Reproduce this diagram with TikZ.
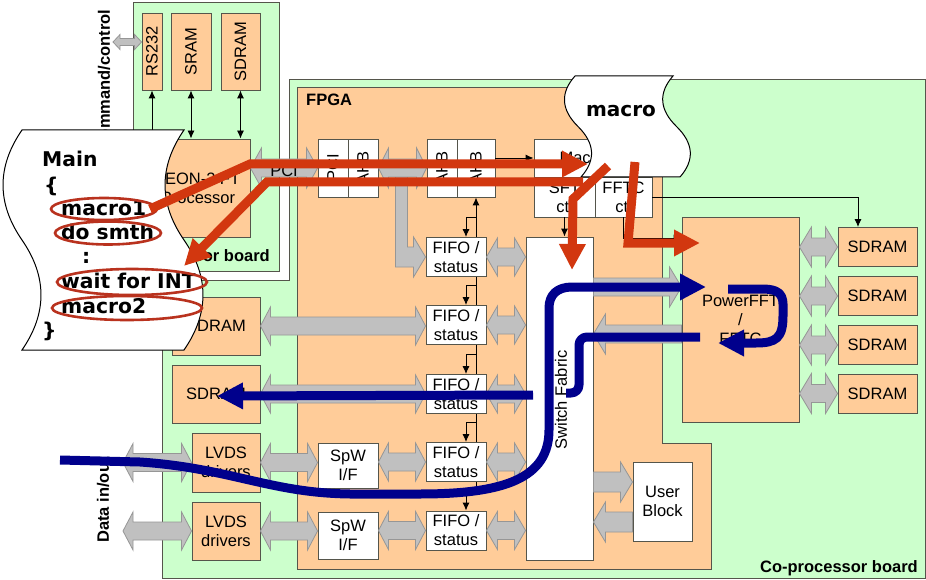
\documentclass[tikz,border=0pt]{standalone}
\usepackage{fontspec}
\setmainfont{Liberation Sans}
\newfontfamily\dejav{DejaVu Sans}
\usetikzlibrary{arrows.meta,calc}
\definecolor{gboard}{RGB}{204,255,204}
\definecolor{obox}{RGB}{255,204,153}
\definecolor{bord}{RGB}{85,85,75}
\definecolor{gfill}{RGB}{192,192,192}
\definecolor{gline}{RGB}{150,150,150}
\definecolor{redA}{RGB}{210,55,15}
\definecolor{redE}{RGB}{185,50,30}
\definecolor{blueA}{RGB}{0,0,140}
\pgfdeclarelayer{back}\pgfdeclarelayer{mid}
\pgfsetlayers{back,mid,main}
\newcommand\lab{\fontsize{16.5}{19}\selectfont}
\newcommand\labb{\bfseries\fontsize{16.5}{19}\selectfont}
\newcommand\mainf{\dejav\bfseries\fontsize{20.3}{23}\selectfont}
% fat gray arrows: p1, p2, shaft half, head half, head length
\newcommand\gDbl[5]{\filldraw[garrow] let \p1=(#1),\p2=(#2) in
 (\x1,\y1) -- (\x1+#5pt,\y1+#4pt) -- (\x1+#5pt,\y1+#3pt) -- (\x2-#5pt,\y1+#3pt) -- (\x2-#5pt,\y1+#4pt) -- (\x2,\y1) -- (\x2-#5pt,\y1-#4pt) -- (\x2-#5pt,\y1-#3pt) -- (\x1+#5pt,\y1-#3pt) -- (\x1+#5pt,\y1-#4pt) -- cycle;}
\newcommand\gR[5]{\filldraw[garrow] let \p1=(#1),\p2=(#2) in
 (\x1,\y1+#3pt) -- (\x2-#5pt,\y1+#3pt) -- (\x2-#5pt,\y1+#4pt) -- (\x2,\y1) -- (\x2-#5pt,\y1-#4pt) -- (\x2-#5pt,\y1-#3pt) -- (\x1,\y1-#3pt) -- cycle;}
\newcommand\gL[5]{\filldraw[garrow] let \p1=(#1),\p2=(#2) in
 (\x1,\y1) -- (\x1+#5pt,\y1+#4pt) -- (\x1+#5pt,\y1+#3pt) -- (\x2,\y1+#3pt) -- (\x2,\y1-#3pt) -- (\x1+#5pt,\y1-#3pt) -- (\x1+#5pt,\y1-#4pt) -- cycle;}
\begin{document}
\begin{tikzpicture}[x=1pt,y=-1pt,
 orange box/.style={draw=bord, fill=obox, line width=0.9pt, inner sep=0pt, align=center, font=\lab},
 white box/.style={draw=bord, fill=white, line width=0.9pt, inner sep=0pt, align=center, font=\lab},
 garrow/.style={fill=gfill, draw=gline, line width=0.8pt},
 blk/.style={draw=black, line width=0.9pt},
 blkarr/.style={blk, -{Latex[length=8pt,width=7pt]}},
 blkdbl/.style={blk, {Latex[length=8pt,width=7pt]}-{Latex[length=8pt,width=7pt]}},
 redarr/.style={draw=redA, line width=9pt, -{Triangle[length=26pt,width=25pt]}},
 bluearr/.style={draw=blueA, line width=9pt, line join=round, -{Triangle[length=26pt,width=25pt]}},
 blueline/.style={draw=blueA, line width=9pt, line join=round},
 redell/.style={draw=redE, line width=2.6pt},
 txt/.style={inner sep=0pt, font=\lab},
 scroll/.style={draw=black, fill=white, line width=1pt},
 mtxt/.style={inner sep=0pt, font=\mainf, anchor=base west},
]
\useasboundingbox (0,0) rectangle (926,580);
\begin{pgfonlayer}{back}
\fill[white] (0,0) rectangle (926,580);
\filldraw[fill=gboard, draw=bord, line width=1pt] (162,280) -- (289,280) -- (289,80) -- (925,80) -- (925,578) -- (162,578) -- cycle;
\filldraw[fill=gboard, draw=bord, line width=1pt] (133,3) rectangle (279,271);
\filldraw[fill=obox, draw=bord, line width=1pt] (297,88) -- (662,88) -- (662,443) -- (711,443) -- (711,569) -- (297,569) -- cycle;
\end{pgfonlayer}

% board labels
\node[txt, font=\labb, anchor=west] (fpgaL) at (306,100) {FPGA};
\node[txt, font=\labb, anchor=east] (cpb) at (918,568) {Co-processor board};
\node[txt, font=\labb, anchor=east] (pb) at (270,256) {Processor board};
\node[txt, font=\labb, rotate=90] (cmd) at (104,79) {command/control};
\node[txt, font=\labb, rotate=90] (dio) at (103,500) {Data in/out};

% processor board
\node[orange box, minimum width=20pt, minimum height=77pt] (rs232) at (152,51.5) {};
\node[txt, rotate=90] (rs232t) at (rs232) {RS232};
\node[orange box, minimum width=40pt, minimum height=77pt] (sram) at (191,51.5) {};
\node[txt, rotate=90] (sramt) at (sram) {SRAM};
\node[orange box, minimum width=39pt, minimum height=77pt] (sdp) at (240.5,51.5) {};
\node[txt, rotate=90] (sdpt) at (sdp) {SDRAM};
\node[orange box, minimum width=104pt, minimum height=98pt] (leon) at (198,188) {LEON-2 FT\\Processor};
\draw[blkdbl] (rs232.south) -- (rs232.south |- leon.north);
\draw[blkdbl] (sram.south) -- (sram.south |- leon.north);
\draw[blkdbl] (sdp.south) -- (sdp.south |- leon.north);
\coordinate (cmdL) at (113,42);
\gDbl{cmdL}{rs232.west |- cmdL}{3.5}{7.5}{7}

% FPGA top blocks
\node[white box, minimum width=30pt, minimum height=58pt] (pci) at (333,168) {};
\node[txt, rotate=90] (pcit) at (pci) {PCI};
\node[white box, minimum width=30pt, minimum height=58pt] (ahb1) at (363,168) {};
\node[txt, rotate=90] (ahb1t) at (ahb1) {AHB};
\node[white box, minimum width=30pt, minimum height=58pt] (ahb2) at (442,168) {};
\node[txt, rotate=90] (ahb2t) at (ahb2) {AHB};
\node[white box, minimum width=38pt, minimum height=58pt] (ahb3) at (476,168) {};
\node[txt, rotate=90] (ahb3t) at (ahb3) {AHB};
\node[white box, minimum width=118pt, minimum height=38pt] (mctl) at (593,158) {Macro ctl};
\node[white box, minimum width=61pt, minimum height=40pt] (sftc) at (564.5,197) {SFT\\ctl};
\node[white box, minimum width=57pt, minimum height=40pt] (fftc) at (623.5,197) {FFTC\\ctl};

% FIFOs, switch fabric, user block
\foreach \i/\y in {1/257,2/325,3/394,4/462,5/530.5}
  \node[white box, minimum width=60pt, minimum height=39pt] (fifo\i) at (456,\y) {FIFO /\\status};
\node[white box, minimum width=67pt, minimum height=323pt] (sf) at (559.5,398.5) {};
\node[txt, rotate=90] (swt) at (561,400) {Switch Fabric};
\node[white box, minimum width=59pt, minimum height=79pt] (ub) at (662.5,501.5) {User\\Block};

% PowerFFT and SDRAMs
\node[orange box, minimum width=117pt, minimum height=205pt] (pf) at (740.5,319.5) {PowerFFT\\/\\FFTC};
\foreach \i/\y in {1/247,2/296,3/345,4/393.5}
  \node[orange box, minimum width=79pt, minimum height=39pt] (sdr\i) at (877.5,\y) {SDRAM};

% left column
\node[orange box, minimum width=88pt, minimum height=58pt] (sdl1) at (216,326) {SDRAM};
\node[orange box, minimum width=88pt, minimum height=58pt] (sdl2) at (216,394) {SDRAM};
\node[orange box, minimum width=68pt, minimum height=59pt] (lvds1) at (226,462.5) {LVDS\\drivers};
\node[orange box, minimum width=68pt, minimum height=58pt] (lvds2) at (226,531) {LVDS\\drivers};
\node[white box, minimum width=60pt, minimum height=45pt] (spw1) at (348,465.5) {SpW\\I/F};
\node[white box, minimum width=60pt, minimum height=47pt] (spw2) at (348,535.5) {SpW\\I/F};

% bus (under boxes)
\begin{pgfonlayer}{mid}
\draw[blkarr] ([yshift=21pt]fifo5.north -| ahb3.south) -- (ahb3.south);
\end{pgfonlayer}
\foreach \i in {1,...,5}
  \draw[blkarr] ([yshift=20pt]fifo\i.north -| ahb3.south) -- ([xshift=10pt,yshift=20pt]fifo\i.north) -- ([xshift=10pt]fifo\i.north);

% gray arrows
\gDbl{leon.east |- pci.west}{pci.west}{9}{20}{11}
\node[txt] (pcil) at (284,171) {PCI};
\filldraw[garrow] let \p1=(fifo1.west), \p2=(ahb1.east) in (\x2+17pt,\y2) -- (\x2+17pt,\y1-10pt) -- (\x1-12pt,\y1-10pt) -- (\x1-12pt,\y1-20pt) -- (\x1,\y1) -- (\x1-12pt,\y1+20pt) -- (\x1-12pt,\y1+10pt) -- (\x2+29pt,\y1+10pt) -- (\x2+29pt,\y2) -- cycle;
\gDbl{ahb1.east}{ahb2.west}{9}{20}{10}
\gDbl{sdl1.east}{fifo2.west}{9}{19}{10}
\gDbl{sdl2.east}{fifo3.west}{9}{19}{10}
\coordinate (lvL) at (123,0);
\gDbl{lvL |- lvds1.west}{lvds1.west}{9}{19}{10}
\gDbl{lvL |- lvds2.west}{lvds2.west}{9}{19}{10}
\gDbl{lvds1.east}{spw1.west |- lvds1.east}{9}{19}{10}
\gDbl{lvds2.east}{spw2.west |- lvds2.east}{9}{19}{10}
\gDbl{spw1.east |- fifo4.west}{fifo4.west}{9}{19}{10}
\gDbl{spw2.east |- fifo5.west}{fifo5.west}{9}{19}{10}
\foreach \i in {1,...,5} {\gDbl{fifo\i.east}{sf.west |- fifo\i.east}{9}{19}{11}}
\coordinate (g1) at (0,287);
\coordinate (g2) at (0,334);
\coordinate (g3) at (0,482);
\coordinate (g4) at (0,522);
\gR{sf.east |- g1}{pf.west |- g1}{9}{20}{12}
\gL{sf.east |- g2}{pf.west |- g2}{9}{20}{12}
\gR{sf.east |- g3}{ub.west |- g3}{10}{20}{12}
\gL{sf.east |- g4}{ub.west |- g4}{10}{20}{12}
\foreach \i in {1,...,4} {\gDbl{pf.east |- sdr\i.west}{sdr\i.west}{9}{20}{12}}

% black arrows
\coordinate (g0) at (0,238);
\draw[blkarr] (ahb3.east |- mctl.west) -- (mctl.west);
\draw[blkarr] (sftc.south) -- (sftc.south |- sf.north);
\draw[blkarr] (fftc.south) |- (pf.west |- g0);
\draw[blkarr] (fftc.east) -| ([xshift=-19.5pt]sdr1.north);

% Main scroll
\filldraw[scroll] (22,130) -- (184,130) .. controls (158.7,166.7) and (158.7,203.3) .. (184,240) .. controls (209.3,276.7) and (209.3,313.3) .. (184,350) -- (22,350) .. controls (47.3,313.3) and (47.3,276.7) .. (22,240) .. controls (-3.3,203.3) and (-3.3,166.7) .. (22,130) -- cycle;
\node[mtxt] (mMain) at (42,167) {Main};
\node[mtxt] (mOpen) at (44,193) {\{};
\node[mtxt] (m1) at (61,215) {macro1};
\node[mtxt] (m2) at (61,239) {do smth};
\node[mtxt] (mdots) at (82,263) {:};
\node[mtxt] (m3) at (61,288) {wait for INT};
\node[mtxt] (m4) at (61,313) {macro2};
\node[mtxt] (mClose) at (42,337) {\}};
\draw[redell] (104,209) ellipse [x radius=53pt, y radius=11pt];
\draw[redell] (108,233) ellipse [x radius=53pt, y radius=11.5pt];
\draw[redell] (132,282) ellipse [x radius=75pt, y radius=13pt];
\draw[redell] (127,308) ellipse [x radius=75pt, y radius=12pt];

% macro scroll
\filldraw[scroll] (575,76) -- (673,76) .. controls (658.2,92.8) and (659.3,109.7) .. (676.5,126.5) .. controls (693.7,143.3) and (694.8,160.2) .. (680,177) -- (581,177) .. controls (596,160.2) and (595,143.3) .. (578,126.5) .. controls (561,109.7) and (560,92.8) .. (575,76) -- cycle;
\node[txt, font=\dejav\bfseries\fontsize{20}{24}\selectfont, anchor=base] (mac) at (621,117) {macro};

% red arrows
\coordinate (r1a) at (150,209); \coordinate (r1b) at (250,164); \coordinate (r1c) at (588,164);
\draw[redarr] (r1a) -- (r1b) -- (r1c);
\coordinate (r2a) at (583,182); \coordinate (r2b) at (267,182); \coordinate (r2c) at (184,266);
\draw[redarr] (r2a) -- (r2b) -- (r2c);
\coordinate (r3a) at (608,166); \coordinate (r3b) at (573,199); \coordinate (r3c) at (572,270);
\draw[redarr] (r3a) -- (r3b) -- (r3c);
\coordinate (r4a) at (635,162); \coordinate (r4b) at (628,243); \coordinate (r4c) at (700,243);
\draw[redarr] (r4a) -- (r4b) -- (r4c);

% blue arrows
\draw[blueline, rounded corners=8pt] (700,337) -| (579,393) -- (566,393);
\draw[bluearr] (533,395) -- (217,396);
\draw[bluearr] (60,460) -- (140,462) .. controls (230,468) and (270,493) .. (350,494) -- (420,494) .. controls (505,494) and (549,478) .. (549,430) -- (549,308) .. controls (549,295) and (557,287) .. (572,287) -- (706,287);
\draw[bluearr] (728,289) -- (762,289) .. controls (786,289) and (783,300) .. (783,316) .. controls (783,338) and (776,343) .. (756,343) -- (718,343);
\end{tikzpicture}
\end{document}
